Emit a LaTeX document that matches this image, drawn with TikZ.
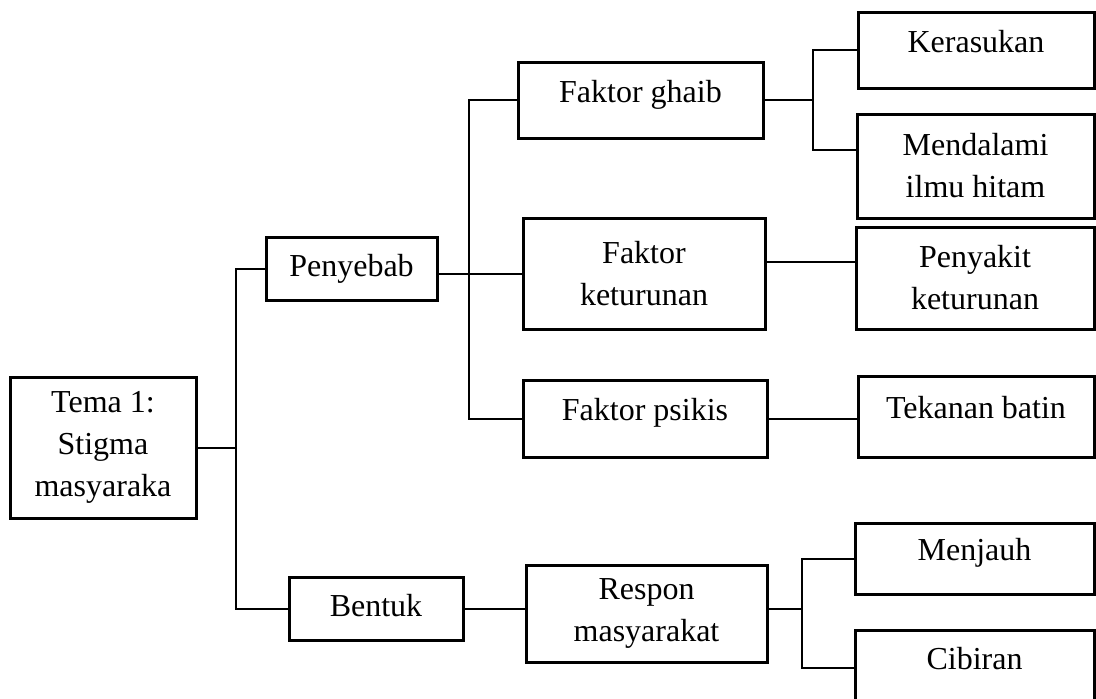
\documentclass[tikz,border=0pt]{standalone}
\usepackage{fontspec}
\setmainfont{Liberation Serif}
\usepackage{tikz}

\tikzset{
  kotak/.style={draw, line width=1.5pt, inner sep=0pt, align=center,
    font=\fontsize{16}{21}\selectfont},
  satuatas/.style={text height=11pt, text depth=9pt},
  satutengah/.style={text height=11pt, text depth=3pt},
  garis/.style={line width=1pt},
}

\begin{document}
\begin{tikzpicture}[x=0.5pt,y=-0.5pt]
\useasboundingbox (0,0) rectangle (1096,698);
% tema
\node[kotak,minimum width=93pt,minimum height=70.5pt] (tema) at (103,447.5) {Tema 1:\\Stigma\\masyaraka};
\node[kotak,satutengah,minimum width=85.5pt,minimum height=31.5pt] (penyebab) at (351.5,268.5) {Penyebab};
\node[kotak,satutengah,minimum width=87pt,minimum height=31.5pt] (bentuk) at (376,608.5) {Bentuk};
% faktor
\node[kotak,satuatas,minimum width=122.5pt,minimum height=38pt] (ghaib) at (640.5,100) {Faktor ghaib};
\node[kotak,minimum width=121pt,minimum height=55.5pt] (keturunan) at (644,273.5) {Faktor\\keturunan};
\node[kotak,satuatas,minimum width=122pt,minimum height=38.5pt] (psikis) at (645,418.5) {Faktor psikis};
\node[kotak,minimum width=120.5pt,minimum height=48.5pt] (respon) at (646.5,613.5) {Respon\\masyarakat};
% kolom kanan
\node[kotak,satuatas,minimum width=118pt,minimum height=38pt] (kerasukan) at (976,50) {Kerasukan};
\node[kotak,minimum width=118.5pt,minimum height=52pt] (mendalami) at (975.5,166) {Mendalami\\ilmu hitam};
\node[kotak,minimum width=119pt,minimum height=51pt] (penyakit) at (975,278) {Penyakit\\keturunan};
\node[kotak,satuatas,minimum width=118pt,minimum height=40.5pt] (tekanan) at (976,416.5) {Tekanan batin};
\node[kotak,satuatas,minimum width=119.5pt,minimum height=35.5pt] (menjauh) at (974.5,558.5) {Menjauh};
\node[kotak,satuatas,minimum width=119.5pt,minimum height=37.5pt] (cibiran) at (974.5,667.5) {Cibiran};

\coordinate (j0) at (236,447.5);
\coordinate (j1) at (469,273.5);
\coordinate (j2) at (813,100);
\coordinate (j3) at (802,608.5);

\draw[garis] (tema.east) -- (j0);
\draw[garis] (penyebab.west) -| (j0) |- (bentuk.west);
\draw[garis] (penyebab.east |- keturunan.west) -- (keturunan.west);
\draw[garis] (ghaib.west) -| (j1) |- (psikis.west);
\draw[garis] (ghaib.east) -- (j2);
\draw[garis] (kerasukan.west) -| (j2) |- ([yshift=8pt]mendalami.west);
\draw[garis] ([yshift=6pt]keturunan.east) -- ([yshift=6pt]keturunan.east -| penyakit.west);
\draw[garis] (psikis.east) -- (psikis.east -| tekanan.west);
\draw[garis] (bentuk.east) -- (bentuk.east -| respon.west);
\draw[garis] (j3 -| respon.east) -- (j3);
\draw[garis] (menjauh.west) -| (j3) |- (cibiran.west);
\end{tikzpicture}
\end{document}
